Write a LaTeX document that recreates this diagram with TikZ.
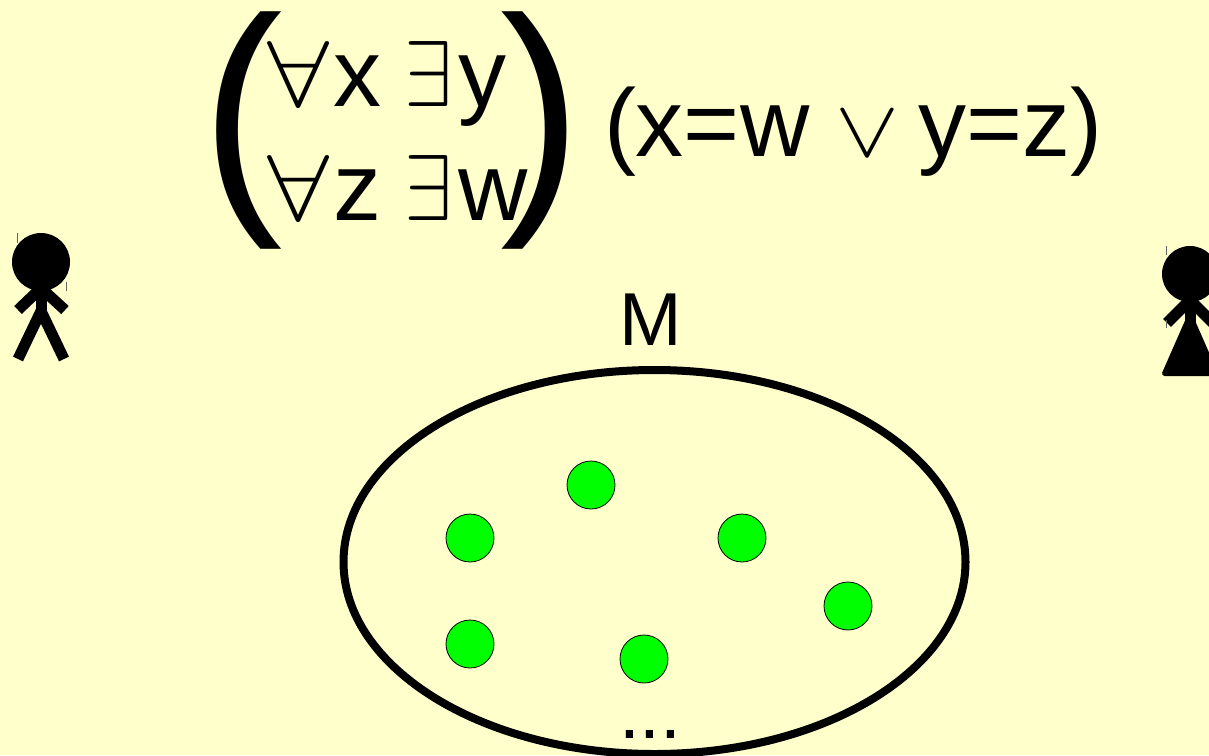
\documentclass[tikz,border=0pt]{standalone}
\usepackage{fontspec}
\setmainfont[Kerning=Off]{Liberation Sans}
\definecolor{paper}{RGB}{255,255,204}
\definecolor{dotgreen}{RGB}{0,255,0}
\newcommand{\fs}[1]{\fontsize{#1}{#1}\selectfont}
\newcommand{\adv}[2]{\makebox[#1pt][l]{#2}}
\newcommand{\myall}{\resizebox{62pt}{65pt}{$\scriptstyle\forall$}}
\newcommand{\myex}{\resizebox{48pt}{65pt}{$\scriptstyle\exists$}}
\newcommand{\myor}{\resizebox{64pt}{45pt}{$\scriptstyle\vee$}}
\tikzset{
  txt/.style={inner sep=0pt,outer sep=0pt,anchor=base west,text=black},
  elem/.style={circle,draw=black,line width=0.8pt,fill=dotgreen,minimum size=48pt,inner sep=0pt},
  limb/.style={line width=11pt,draw=black},
  tick/.style={line width=1pt,draw=black!60},
}
\begin{document}
\begin{tikzpicture}[x=1pt,y=-1pt]
\useasboundingbox (0,0) rectangle (1209,755);
\clip (0,0) rectangle (1209,755);
\fill[paper] (0,0) rectangle (1209,755);
% quantifiers
\node[txt] (q1) at (267,106) {\fs{96}\adv{66}{\myall}\adv{71}{x}\adv{54}{\myex}y};
\node[txt] (q2) at (267,220) {\fs{96}\adv{66}{\myall}\adv{71}{z}\adv{54}{\myex}w};
\node[txt] (lp) at (201,196) {\scalebox{24.5}[25.5]{(}};
\node[txt] (rp) at (500,196) {\scalebox{24.5}[25.5]{)}};
% matrix
\node[txt] (f) at (604,156) {\fs{96}(x=w\hspace{26pt}\adv{83}{\myor}y=z)};
% model
\node[txt] (m) at (619,345) {\fs{75}M};
\draw[line width=8pt] (654.5,562) ellipse [x radius=311,y radius=192];
\node[elem] (a) at (591,485) {};
\node[elem] (b) at (470,538) {};
\node[elem] (c) at (742,538) {};
\node[elem] (d) at (848,606) {};
\node[elem] (e) at (470,644) {};
\node[elem] (g) at (644,659) {};
\node[txt] (dots) at (619,738) {\fs{75}...};
% man
\fill (41,262) circle [radius=29];
\draw[limb] (41,285) -- (41,312);
\draw[limb] (18,310) -- (41,288) -- (65,310);
\draw[limb] (18,359) -- (41,311) -- (64,359);
\draw[tick] (17.5,233) -- (17.5,243);
\draw[tick] (66,282) -- (66,291);
% woman
\fill (1190,274) circle [radius=28];
\draw[limb] (1167,323) -- (1190,300) -- (1213,323);
\draw[limb] (1190,295) -- (1190,325);
\fill[draw=black,line width=5pt,line join=round] (1188,320) -- (1192,320) -- (1215.5,373.5) -- (1164.5,373.5) -- cycle;
\draw[tick] (1166.5,246) -- (1166.5,255);
\draw[tick] (1166.5,320) -- (1166.5,328);
\end{tikzpicture}
\end{document}
